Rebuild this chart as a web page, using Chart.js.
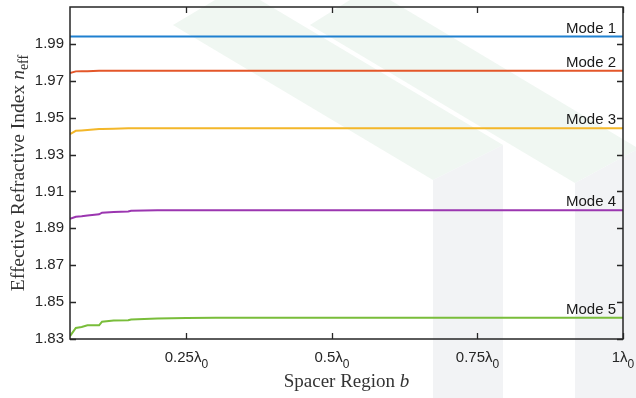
<!DOCTYPE html>
<html>
<head>
<meta charset="utf-8">
<script src="https://cdn.jsdelivr.net/npm/chart.js@4/dist/chart.umd.min.js"></script>
<style>
  html, body { margin: 0; padding: 0; background: #fff; }
  #wrap { width: 636px; height: 398px; }
</style>
</head>
<body>
<div id="wrap"><canvas id="modesChart"></canvas></div>
<script>
// spacer width b, in units of lambda0
const spacerB = [0.05, 0.06, 0.07, 0.08, 0.1, 0.105, 0.125, 0.15, 0.155, 0.2, 0.25, 0.3, 0.4, 0.5, 0.6, 0.7, 0.8, 0.9, 1.0];

const mode1 = [1.9940, 1.9940, 1.9940, 1.9940, 1.9940, 1.9940, 1.9940, 1.9940, 1.9940, 1.9940, 1.9940, 1.9940, 1.9940, 1.9940, 1.9940, 1.9940, 1.9940, 1.9940, 1.9940];
const mode2 = [1.9742, 1.9751, 1.9752, 1.9752, 1.9754, 1.9754, 1.9754, 1.9754, 1.9754, 1.9754, 1.9754, 1.9754, 1.9754, 1.9754, 1.9754, 1.9754, 1.9754, 1.9754, 1.9754];
const mode3 = [1.9411, 1.9429, 1.9431, 1.9433, 1.9438, 1.9439, 1.9440, 1.9442, 1.9442, 1.9442, 1.9442, 1.9442, 1.9442, 1.9442, 1.9442, 1.9442, 1.9442, 1.9442, 1.9442];
const mode4 = [1.8951, 1.8963, 1.8966, 1.8970, 1.8976, 1.8985, 1.8989, 1.8991, 1.8995, 1.8998, 1.8998, 1.8998, 1.8998, 1.8998, 1.8998, 1.8998, 1.8998, 1.8998, 1.8998];
const mode5 = [1.8316, 1.8360, 1.8365, 1.8374, 1.8374, 1.8394, 1.8400, 1.8402, 1.8406, 1.8411, 1.8414, 1.8415, 1.8415, 1.8415, 1.8415, 1.8415, 1.8415, 1.8415, 1.8415];

const modeNames = ["Mode 1", "Mode 2", "Mode 3", "Mode 4", "Mode 5"];
const modeColors = ["#1f80d0", "#e4572a", "#f3b72a", "#9b36b0", "#79bd3a"];

const xTicks = [0.25, 0.5, 0.75, 1];
const xTickLabels = ["0.25", "0.5", "0.75", "1"];
const yTicks = [1.83, 1.85, 1.87, 1.89, 1.91, 1.93, 1.95, 1.97, 1.99];

const SANS = "'Liberation Sans', Arial, sans-serif";
const SERIF = "'Liberation Serif', 'Times New Roman', serif";
const INK = "#262626";

const allModes = [mode1, mode2, mode3, mode4, mode5];

// faint watermark behind the figure
const watermark = {
  id: "watermark",
  beforeDraw(chart) {
    const c = chart.ctx;
    c.save();
    c.fillStyle = "#fff";
    c.fillRect(0, 0, chart.width, chart.height);
    c.fillStyle = "#f0f7f2";
    c.beginPath();
    c.moveTo(173, 25); c.lineTo(433, 180); c.lineTo(503, 145); c.lineTo(260, 0); c.lineTo(215, 0);
    c.closePath(); c.fill();
    c.beginPath();
    c.moveTo(310, 25); c.lineTo(575, 183); c.lineTo(636, 150); c.lineTo(636, 147); c.lineTo(390, 0); c.lineTo(350, 0);
    c.closePath(); c.fill();
    c.fillStyle = "#f2f3f5";
    c.beginPath();
    c.moveTo(433, 180); c.lineTo(503, 145); c.lineTo(503, 398); c.lineTo(433, 398);
    c.closePath(); c.fill();
    c.beginPath();
    c.moveTo(575, 183); c.lineTo(636, 150); c.lineTo(636, 398); c.lineTo(575, 398);
    c.closePath(); c.fill();
    c.restore();
  }
};

// MATLAB-style box, inward ticks, labels and titles
const frame = {
  id: "frame",
  afterDraw(chart) {
    const c = chart.ctx;
    const a = chart.chartArea;
    const xs = chart.scales.x, ys = chart.scales.y;
    c.save();
    c.strokeStyle = INK;
    c.lineWidth = 1.5;
    c.strokeRect(a.left, a.top, a.right - a.left, a.bottom - a.top);

    c.lineWidth = 1.3;
    c.beginPath();
    yTicks.forEach(v => {
      const p = Math.round(ys.getPixelForValue(v)) + 0.5;
      c.moveTo(a.left, p); c.lineTo(a.left + 6, p);
      c.moveTo(a.right, p); c.lineTo(a.right - 6, p);
    });
    xTicks.forEach(v => {
      const p = Math.round(xs.getPixelForValue(v)) + 0.5;
      c.moveTo(p, a.bottom); c.lineTo(p, a.bottom - 6);
      c.moveTo(p, a.top); c.lineTo(p, a.top + 6);
    });
    c.stroke();

    // x tick labels like 0.25λ0
    c.fillStyle = INK;
    c.textBaseline = "alphabetic";
    c.textAlign = "left";
    xTicks.forEach((v, i) => {
      const main = xTickLabels[i] + "λ";
      c.font = "15px " + SANS;
      const w1 = c.measureText(main).width;
      c.font = "12px " + SANS;
      const w2 = c.measureText("0").width;
      const x0 = xs.getPixelForValue(v) - (w1 + w2) / 2;
      c.font = "15px " + SANS;
      c.fillText(main, x0, 362);
      c.font = "12px " + SANS;
      c.fillText("0", x0 + w1, 368);
    });

    // mode labels above the right end of each line
    c.font = "15px " + SANS;
    c.textAlign = "right";
    c.fillStyle = "#1a1a1a";
    allModes.forEach((m, i) => {
      const yp = ys.getPixelForValue(m[m.length - 1]);
      c.fillText(modeNames[i], a.right - 7, yp - 4);
    });

    // x axis title
    c.fillStyle = "#333";
    const t1 = "Spacer Region ";
    c.font = "19px " + SERIF;
    const w1 = c.measureText(t1).width;
    c.font = "italic 19px " + SERIF;
    const w2 = c.measureText("b").width;
    const cx = (a.left + a.right) / 2;
    c.textAlign = "left";
    c.font = "19px " + SERIF;
    c.fillText(t1, cx - (w1 + w2) / 2, 387);
    c.font = "italic 19px " + SERIF;
    c.fillText("b", cx - (w1 + w2) / 2 + w1, 387);

    // y axis title, rotated
    const y1 = "Effective Refractive Index ";
    c.font = "19.5px " + SERIF;
    const v1 = c.measureText(y1).width;
    c.font = "italic 19.5px " + SERIF;
    const v2 = c.measureText("n").width;
    c.font = "14px " + SERIF;
    const v3 = c.measureText("eff").width;
    const total = v1 + v2 + v3;
    c.translate(24, (a.top + a.bottom) / 2);
    c.rotate(-Math.PI / 2);
    let px = -total / 2;
    c.font = "19.5px " + SERIF;
    c.fillText(y1, px, 0); px += v1;
    c.font = "italic 19.5px " + SERIF;
    c.fillText("n", px, 0); px += v2;
    c.font = "14px " + SERIF;
    c.fillText("eff", px, 4);
    c.restore();
  }
};

const ctx = document.getElementById("modesChart").getContext("2d");
new Chart(ctx, {
  type: "line",
  data: {
    datasets: allModes.map((m, i) => ({
      label: modeNames[i],
      data: spacerB.map((b, j) => ({ x: b, y: m[j] })),
      borderColor: modeColors[i],
      borderWidth: 2,
      pointRadius: 0,
      fill: false,
      tension: 0
    }))
  },
  options: {
    responsive: true,
    maintainAspectRatio: false,
    animation: false,
    layout: { padding: { top: 7, right: 13, left: 0, bottom: 0 } },
    plugins: {
      legend: { display: false },
      tooltip: { enabled: false }
    },
    scales: {
      x: {
        type: "linear",
        min: 0.05,
        max: 1,
        grid: { display: false },
        border: { display: false },
        ticks: { display: false },
        afterFit: s => { s.height = 59; s.paddingLeft = 0; s.paddingRight = 0; }
      },
      y: {
        min: 1.83,
        max: 2.01,
        grid: { display: false, drawTicks: false },
        border: { display: false },
        afterBuildTicks: s => { s.ticks = yTicks.map(v => ({ value: v })); },
        ticks: {
          color: INK,
          padding: 6,
          font: { family: SANS, size: 15 },
          callback: v => v.toFixed(2)
        },
        afterFit: s => { s.width = 70; s.paddingTop = 0; s.paddingBottom = 0; }
      }
    }
  },
  plugins: [watermark, frame]
});
</script>
</body>
</html>
